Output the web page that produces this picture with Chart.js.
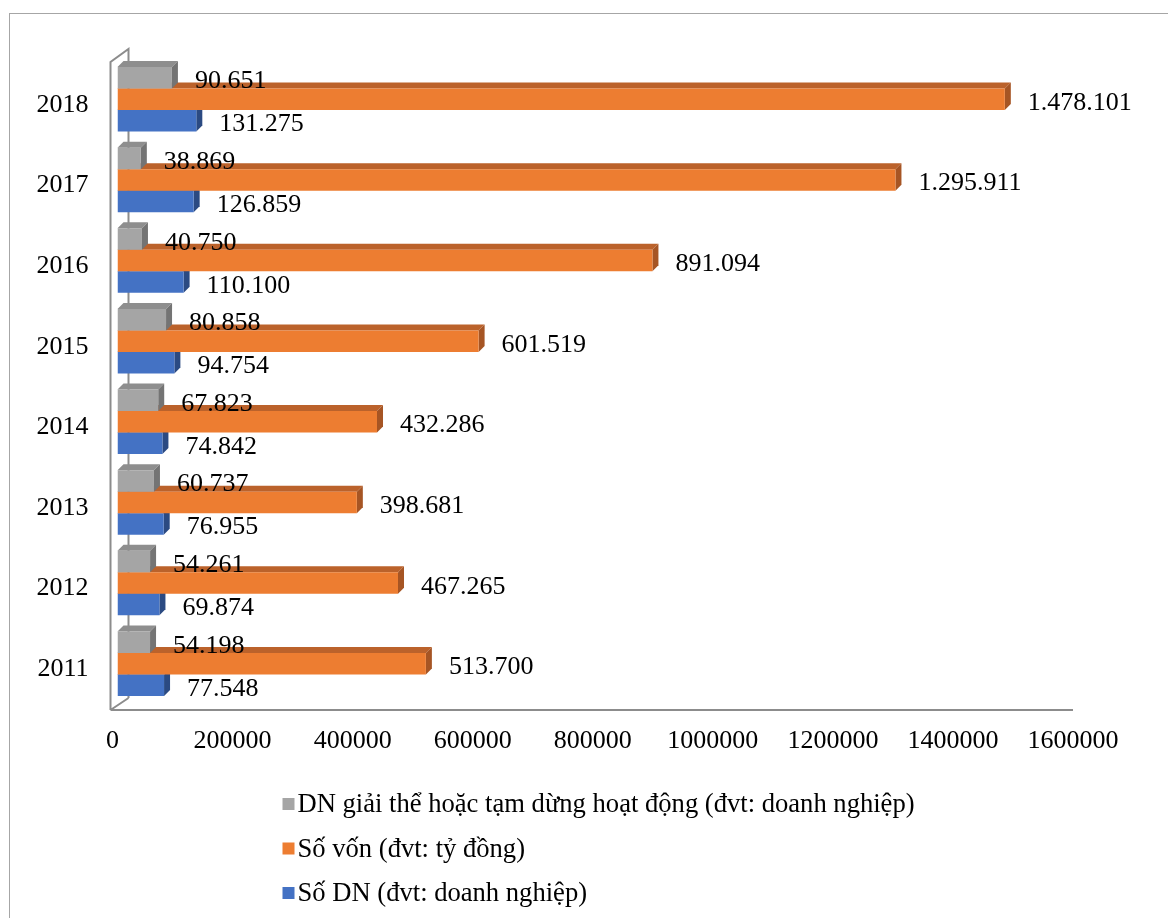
<!DOCTYPE html>
<html>
<head>
<meta charset="utf-8">
<title>Doanh nghiệp 2011 - 2018</title>
<script src="https://cdn.jsdelivr.net/npm/chart.js@4.4.1/dist/chart.umd.min.js"></script>
<style>
  html, body { margin: 0; padding: 0; background: #fff; overflow: hidden; }
  #wrap { position: relative; width: 1168px; height: 918px; }
  #frame { position: absolute; left: 9px; top: 13px; width: 1200px; height: 950px; border: 1px solid #a6a6a6; pointer-events: none; }
  canvas { position: absolute; left: 0; top: 0; }
</style>
</head>
<body>
<div id="wrap">
  <canvas id="chart" width="1168" height="918"></canvas>
  <div id="frame"></div>
</div>
<script>
// years listed top to bottom as they appear on the axis
const years = ['2018', '2017', '2016', '2015', '2014', '2013', '2012', '2011'];
const closedFirms = [90651, 38869, 40750, 80858, 67823, 60737, 54261, 54198];
const capital = [1478101, 1295911, 891094, 601519, 432286, 398681, 467265, 513700];
const newFirms = [131275, 126859, 110100, 94754, 74842, 76955, 69874, 77548];
const xMax = 1600000;
const xStep = 200000;

const FONT = '"Liberation Serif", "Times New Roman", serif';
const FONT_SIZE = 26;
const LEGEND_SIZE = 26.6;
const DEPTH = 6;

const series = [
    { label: 'DN giải thể hoặc tạm dừng hoạt động (đvt: doanh nghiệp)', data: closedFirms, front: '#a5a5a5', top: '#8e8e8e', side: '#747474' },
    { label: 'Số vốn (đvt: tỷ đồng)', data: capital, front: '#ed7d31', top: '#bb622b', side: '#a65524' },
    { label: 'Số DN (đvt: doanh nghiệp)', data: newFirms, front: '#4472c4', top: '#36599a', side: '#2b4a82' }
];

// 1.478.101 style thousands separators
function formatVN(v) {
    return String(v).replace(/\B(?=(\d{3})+(?!\d))/g, '.');
}

// top and right faces for each bar, drawn just before the bar itself
const bar3d = {
    id: 'bar3d',
    beforeDatasetDraw(chart, args) {
        const ctx = chart.ctx;
        const ds = chart.data.datasets[args.index];
        ctx.save();
        args.meta.data.forEach(el => {
            const { x, y, base, height } = el.getProps(['x', 'y', 'base', 'height'], true);
            const top = y - height / 2;
            const bottom = y + height / 2;
            ctx.fillStyle = ds.topColor;
            ctx.beginPath();
            ctx.moveTo(base, top);
            ctx.lineTo(base + DEPTH, top - DEPTH);
            ctx.lineTo(x + DEPTH, top - DEPTH);
            ctx.lineTo(x, top);
            ctx.closePath();
            ctx.fill();
            ctx.fillStyle = ds.sideColor;
            ctx.beginPath();
            ctx.moveTo(x, top);
            ctx.lineTo(x + DEPTH, top - DEPTH);
            ctx.lineTo(x + DEPTH, bottom - DEPTH);
            ctx.lineTo(x, bottom);
            ctx.closePath();
            ctx.fill();
        });
        ctx.restore();
    }
};

// wall and floor outline of the 3d plot box
const box3d = {
    id: 'box3d',
    beforeDatasetsDraw(chart) {
        const { ctx, chartArea: a } = chart;
        const fx = a.left - 7, bx = a.left + 11;
        const fy = a.bottom + 6, by = a.bottom - 6;
        ctx.save();
        ctx.strokeStyle = '#8c8c8c';
        ctx.lineWidth = 2;
        ctx.beginPath();
        ctx.moveTo(fx, fy);
        ctx.lineTo(fx, a.top + 3);
        ctx.lineTo(bx, a.top - 10);
        ctx.lineTo(bx, by);
        ctx.moveTo(fx, fy);
        ctx.lineTo(bx, by);
        ctx.moveTo(fx, fy);
        ctx.lineTo(a.right - 5, fy);
        ctx.stroke();
        ctx.restore();
    }
};

const valueLabels = {
    id: 'valueLabels',
    afterDatasetsDraw(chart) {
        const ctx = chart.ctx;
        ctx.save();
        ctx.font = FONT_SIZE + 'px ' + FONT;
        ctx.fillStyle = '#000';
        ctx.textBaseline = 'alphabetic';
        ctx.textAlign = 'left';
        chart.data.datasets.forEach((ds, i) => {
            chart.getDatasetMeta(i).data.forEach((el, j) => {
                ctx.fillText(formatVN(ds.data[j]), el.x + 23, el.y + 10.5);
            });
        });
        ctx.restore();
    }
};

// stacked legend under the x axis
const listLegend = {
    id: 'listLegend',
    afterDraw(chart) {
        const ctx = chart.ctx;
        const left = chart.chartArea.left + 165;
        const firstRow = chart.scales.x.bottom + 45;
        ctx.save();
        ctx.font = LEGEND_SIZE + 'px ' + FONT;
        ctx.textBaseline = 'alphabetic';
        chart.data.datasets.forEach((ds, i) => {
            const cy = firstRow + i * 44.5;
            ctx.fillStyle = ds.backgroundColor;
            ctx.fillRect(left, cy - 5, 12, 12);
            ctx.fillStyle = '#000';
            ctx.fillText(ds.label, left + 15, cy + 9);
        });
        ctx.restore();
    }
};

new Chart(document.getElementById('chart'), {
    type: 'bar',
    data: {
        labels: years,
        datasets: series.map(s => ({
            label: s.label,
            data: s.data,
            backgroundColor: s.front,
            topColor: s.top,
            sideColor: s.side,
            borderWidth: 0,
            categoryPercentage: 0.8,
            barPercentage: 1.0
        }))
    },
    options: {
        indexAxis: 'y',
        responsive: false,
        animation: false,
        layout: {
            padding: { top: 59, right: 90, bottom: 160, left: 0 }
        },
        scales: {
            x: {
                min: 0,
                max: xMax,
                grid: { display: false, drawTicks: false },
                border: { display: false },
                afterFit(scale) { scale.height = 54; },
                ticks: {
                    stepSize: xStep,
                    padding: 22,
                    labelOffset: -5,
                    color: '#000',
                    font: { family: FONT, size: FONT_SIZE },
                    maxRotation: 0,
                    callback: v => String(v)
                }
            },
            y: {
                grid: { display: false, drawTicks: false },
                border: { display: false },
                afterFit(scale) { scale.width = 117.5; },
                ticks: {
                    padding: 29,
                    labelOffset: 5.5,
                    color: '#000',
                    font: { family: FONT, size: FONT_SIZE }
                }
            }
        },
        plugins: {
            legend: { display: false },
            tooltip: { enabled: false }
        }
    },
    plugins: [box3d, bar3d, valueLabels, listLegend]
});
</script>
</body>
</html>
